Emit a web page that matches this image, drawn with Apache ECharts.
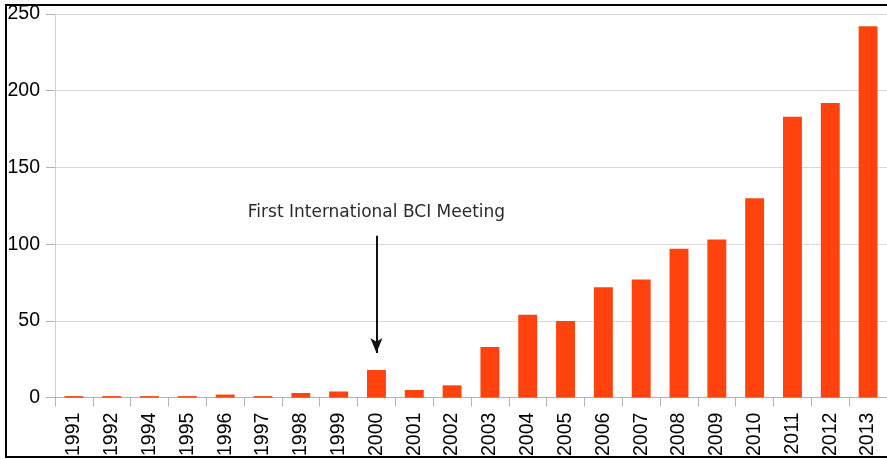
<!DOCTYPE html>
<html>
<head>
<meta charset="utf-8">
<script src="https://cdn.jsdelivr.net/npm/echarts@6/dist/echarts.min.js"></script>
<style>
html,body{margin:0;padding:0;background:#fff;}
#chart{width:887px;height:459px;}
</style>
</head>
<body>
<div id="chart"></div>
<script>
const years = ['1991','1992','1994','1995','1996','1997','1998','1999','2000','2001','2002','2003','2004','2005','2006','2007','2008','2009','2010','2011','2012','2013'];
const counts = [1,1,1,1,2,1,3,4,18,5,8,33,54,50,72,77,97,103,130,183,192,242];
const yTicks = [0,50,100,150,200,250];
const annotationText = 'First International BCI Meeting';
const annotationYear = '2000';
const arrowFrom = 105.5;
const arrowTo = 29;

const chart = echarts.init(document.getElementById('chart'), null, {renderer:'canvas'});
chart.setOption({
  animation:false,
  backgroundColor:'#fff',
  grid:{left:55, top:14, right:-4, bottom:60, containLabel:false},
  xAxis:{
    type:'category',
    data:years,
    boundaryGap:true,
    axisLine:{lineStyle:{color:'#b3b3b3', width:1}},
    axisTick:{show:true, length:9, lineStyle:{color:'#b3b3b3'}},
    axisLabel:{rotate:90, margin:15, fontSize:19.5, color:'#000', fontFamily:'Liberation Sans, Arial, sans-serif', interval:0}
  },
  yAxis:{
    type:'value',
    min:yTicks[0], max:yTicks[yTicks.length-1], interval:50,
    axisLine:{show:true, lineStyle:{color:'#d0d0d0'}},
    axisTick:{show:true, length:9, lineStyle:{color:'#b3b3b3'}},
    axisLabel:{margin:15, fontSize:19.5, color:'#000', fontFamily:'Liberation Sans, Arial, sans-serif'},
    splitLine:{lineStyle:{color:'#d9d9d9', width:1}}
  },
  series:[{
    type:'bar',
    data:counts,
    barWidth:'50%',
    itemStyle:{color:'#ff420e'},
    markLine:{
      silent:true,
      symbol:['none','arrow'],
      symbolSize:[9,15],
      lineStyle:{color:'#111', width:2, type:'solid'},
      label:{show:true, position:'start', formatter:annotationText, fontSize:17, color:'#2a2a2a', fontFamily:'DejaVu Sans, sans-serif', distance:15},
      data:[[{coord:[annotationYear, arrowFrom]},{coord:[annotationYear, arrowTo]}]]
    }
  }],
  graphic:[
    {type:'line', shape:{x1:6, y1:5, x2:900, y2:5}, style:{stroke:'#000', lineWidth:2}, silent:true},
    {type:'line', shape:{x1:6, y1:4, x2:6, y2:458}, style:{stroke:'#000', lineWidth:2}, silent:true},
    {type:'line', shape:{x1:6, y1:457, x2:900, y2:457}, style:{stroke:'#000', lineWidth:2}, silent:true}
  ]
});
</script>
</body>
</html>
